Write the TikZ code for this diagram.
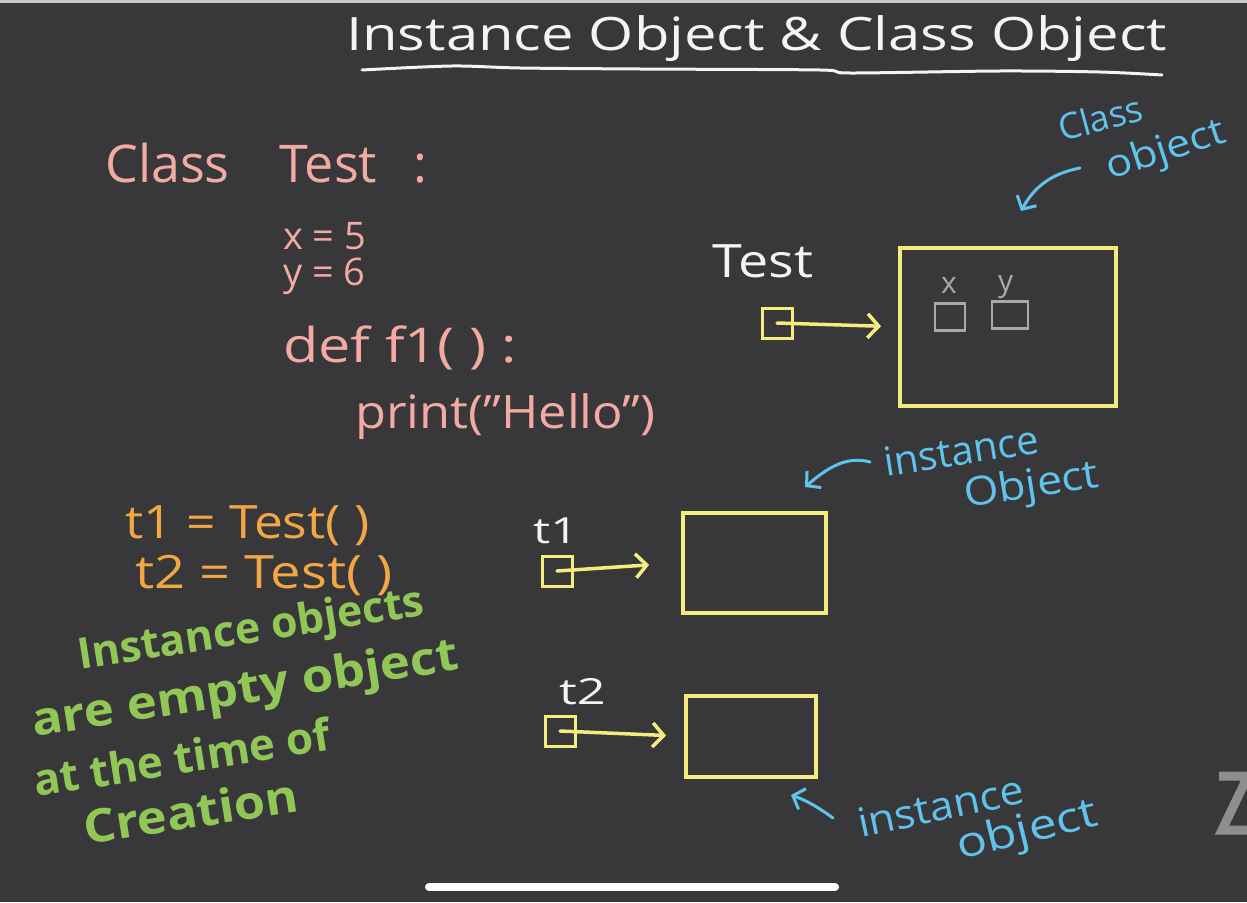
\documentclass[tikz,border=0pt]{standalone}
\usepackage{graphicx}
\usepackage{fontspec}
\setmainfont{Open Sans}
\usetikzlibrary{arrows.meta}
\definecolor{bg}{HTML}{38373A}
\definecolor{strip}{HTML}{C9C9CB}
\definecolor{chalk}{HTML}{F4F4F0}
\definecolor{pinkc}{HTML}{F3AAA2}
\definecolor{orangec}{HTML}{F2A745}
\definecolor{greenc}{HTML}{90C756}
\definecolor{bluec}{HTML}{5FC3EC}
\definecolor{yellowc}{HTML}{F4EC7C}
\definecolor{grayc}{HTML}{A9A9A9}
\definecolor{logoc}{HTML}{8E8E90}
\newcommand{\fs}[1]{\fontsize{#1}{#1}\selectfont}
\newcommand{\xs}[2]{\scalebox{#1}[1]{#2}}
\tikzset{
  txt/.style={inner sep=0pt, anchor=base west},
  titletxt/.style={txt, text=chalk, font=\fs{46}},
  codetxt/.style={txt, text=pinkc},
  calltxt/.style={txt, text=orangec, font=\fs{46}},
  notetxt/.style={txt, text=greenc, rotate=9},
  bluetxt/.style={txt, text=bluec, font=\fs{40}},
  labeltxt/.style={txt, text=chalk},
  objbox/.style={draw=yellowc, line width=3.5pt, anchor=north west, inner sep=0pt},
  ptrbox/.style={draw=yellowc, line width=3pt, minimum size=30pt, inner sep=0pt},
  slotbox/.style={draw=grayc, line width=2.5pt, minimum width=30pt, minimum height=27pt, inner sep=0pt},
  yarrow/.style={draw=yellowc, line width=3.5pt, line cap=round, -{Straight Barb[length=11pt,width=24pt,line width=3.5pt]}},
  barrow/.style={draw=bluec, line width=3pt, line cap=round, -{Straight Barb[length=10pt,width=22pt,line width=3pt]}},
}
\begin{document}
\begin{tikzpicture}[x=1pt,y=-1pt]
\fill[bg] (0,0) rectangle (1247,902);
\useasboundingbox (0,0) rectangle (1247,902);
\fill[strip] (0,0) rectangle (1247,3);

% title
\node[titletxt] (title) at (346,50) {\xs{1.26}{Instance Object \& Class Object}};
\draw[chalk, line width=3pt, line cap=round] plot[smooth] coordinates {(362,70) (452,66) (520,68) (640,69) (820,70) (850,73) (1000,71) (1100,72) (1162,75)};

% code
\node[codetxt, font=\fs{52}] (cls) at (105,182) {Class\hspace{50pt}Test\hspace{36pt}:};
\node[codetxt, font=\fs{38}] (lx) at (283,249) {x = 5};
\node[codetxt, font=\fs{38}] (ly) at (283,285) {y = 6};
\node[codetxt, font=\fs{48}] (def) at (283,362) {\xs{1.2}{def f1( ) :}};
\node[codetxt, font=\fs{46}] (prt) at (355,428) {\xs{1.1}{print("Hello")}};

\node[calltxt] (c1) at (125,538) {\xs{1.12}{t1 = Test( )}};
\node[calltxt] (c2) at (135,588) {\xs{1.18}{t2 = Test( )}};

% green note
\node[notetxt, font=\bfseries\fs{43}] (n1) at (80,670) {Instance objects};
\node[notetxt, font=\bfseries\fs{46}] (n2) at (34,737) {\xs{1.11}{are empty object}};
\node[notetxt, font=\bfseries\fs{44}] (n3) at (36,797) {at the time of};
\node[notetxt, font=\bfseries\fs{46}] (n4) at (86,845) {\xs{1.1}{Creation}};

% class object
\node[labeltxt, font=\fs{46}] (testlbl) at (712,277) {\xs{1.17}{Test}};
\node[ptrbox] (testptr) at (777,323) {};
\node[objbox, minimum width=216pt, minimum height=158pt] (clsbox) at (898,246) {};
\node[txt, text=grayc, font=\fs{30}] (xl) at (941,293) {x};
\node[txt, text=grayc, font=\fs{30}] (yl) at (998,291) {y};
\node[slotbox] (xs) at (950,317) {};
\node[slotbox, minimum width=36pt] (ys) at (1010,315) {};
\draw[yarrow, shorten >=17pt] (testptr.center) -- (clsbox.west);

\node[bluetxt, font=\fs{36}, rotate=15] (cl1) at (1062,142) {Class};
\node[bluetxt, font=\fs{38}, rotate=18] (cl2) at (1110,180) {\xs{1.14}{object}};
\coordinate (ca1) at (1080,168);
\coordinate (ca2) at (1021,211);
\draw[barrow] (ca1) to[bend right=25] (ca2);

% t1
\node[labeltxt, font=\fs{36}] (t1lbl) at (533,543) {\xs{1.35}{t1}};
\node[ptrbox] (t1ptr) at (557,571) {};
\node[objbox, minimum width=143pt, minimum height=100pt] (b1) at (681,511) {};
\draw[yarrow, shorten >=32pt] (t1ptr.center) -- (b1.west);

\node[bluetxt, rotate=9] (i1) at (886,477) {instance};
\node[bluetxt, rotate=9] (i2) at (966,508) {\xs{1.12}{Object}};
\coordinate (ia1) at (870,462);
\coordinate (ia2) at (805,487);
\draw[barrow] (ia1) .. controls (845,455) and (825,470) .. (ia2);

% t2
\node[labeltxt, font=\fs{36}] (t2lbl) at (559,704) {\xs{1.4}{t2}};
\node[ptrbox] (t2ptr) at (560,731) {};
\node[objbox, minimum width=130pt, minimum height=81pt] (b2) at (684,694) {};
\draw[yarrow, shorten >=18pt] (t2ptr.center) -- (b2.west);

\node[bluetxt, rotate=12] (i3) at (861,838) {\xs{1.08}{instance}};
\node[bluetxt, font=\fs{42}, rotate=14] (i4) at (960,860) {\xs{1.2}{object}};
\coordinate (ja1) at (833,818);
\coordinate (ja2) at (791,795);
\draw[barrow] (ja1) .. controls (815,805) and (805,800) .. (ja2);

% logo and bar
\draw[logoc, line width=9pt] (1219,776) -- (1247,776) (1247,778) -- (1222,830) -- (1247,830);
\draw[white, line width=8pt, line cap=round] (429,887) -- (835,887);
\end{tikzpicture}
\end{document}
